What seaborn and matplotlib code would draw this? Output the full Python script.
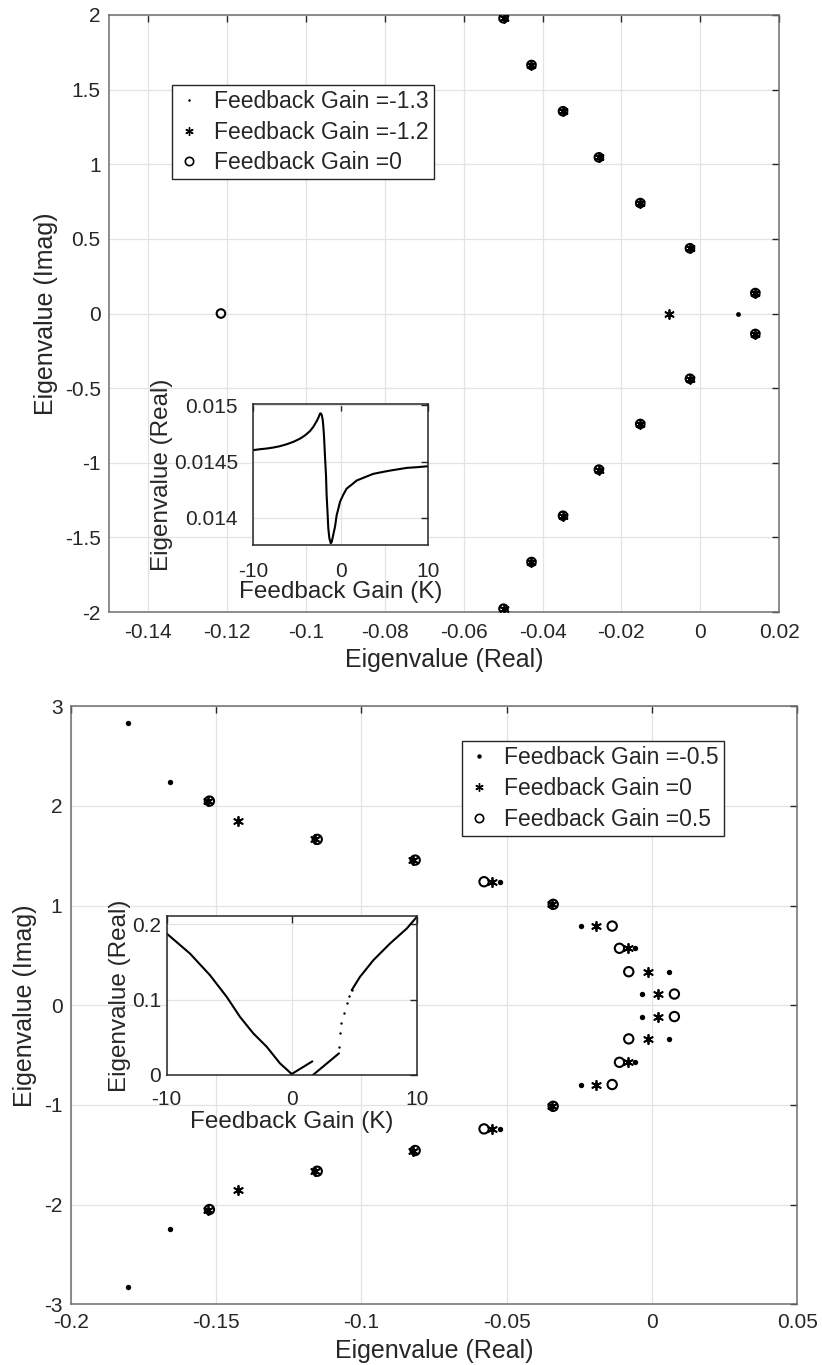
import numpy as np
import pandas as pd
import matplotlib
matplotlib.use("Agg")
import matplotlib.pyplot as plt
import seaborn as sns
from matplotlib.lines import Line2D

# ---------------- data: top panel ----------------
top_labels = ["Feedback Gain =-1.3", "Feedback Gain =-1.2", "Feedback Gain =0"]
# complex-conjugate eigenvalues (upper half) shared by the three gains
top_cplx_real = [-0.0499, -0.0428, -0.0348, -0.0257, -0.0152, -0.0026, 0.0140]
top_cplx_imag = [1.978, 1.665, 1.355, 1.046, 0.740, 0.437, 0.137]
# real eigenvalue of each gain
top_real_eig = [0.0095, -0.0079, -0.1216]

# inset of top panel: eigenvalue (real) vs feedback gain
ins1_K = [-10, -9.23, -8.47, -7.71, -6.95, -6.19, -5.43, -4.66, -4.09, -3.52, -3.14,
          -2.76, -2.57, -2.38, -2.30, -2.19, -2.07, -2.0, -1.92, -1.81, -1.69, -1.62,
          -1.54, -1.43, -1.31, -1.15, -1.04, -0.86, -0.66, -0.47, -0.29, -0.09, 0.29,
          0.67, 1.24, 1.82, 2.77, 3.71, 4.67, 5.62, 6.57, 7.53, 8.67, 10]
ins1_val = [0.014603, 0.014611, 0.014617, 0.014626, 0.014638, 0.014655, 0.014676,
            0.014705, 0.014734, 0.014772, 0.014810, 0.014860, 0.014889, 0.014927,
            0.014930, 0.014918, 0.014875, 0.014816, 0.014728, 0.014553, 0.014377,
            0.014202, 0.014085, 0.013910, 0.013822, 0.013775, 0.013787, 0.013851,
            0.013924, 0.014026, 0.014079, 0.014144, 0.014208, 0.014261, 0.014296,
            0.014333, 0.014363, 0.014392, 0.014407, 0.014421, 0.014433, 0.014445,
            0.014451, 0.014460]

# ---------------- data: bottom panel ----------------
bot_labels = ["Feedback Gain =-0.5", "Feedback Gain =0", "Feedback Gain =0.5"]
bot_m05_real = [-0.1802, -0.1658, -0.1529, -0.1158, -0.0821, -0.0523, -0.0344, -0.0244, -0.0058, 0.0057, -0.0035]
bot_m05_imag = [2.829, 2.243, 2.049, 1.665, 1.457, 1.240, 1.013, 0.795, 0.572, 0.337, 0.113]
bot_0_real = [-0.1529, -0.1426, -0.1158, -0.0821, -0.0552, -0.0344, -0.0192, -0.0083, -0.0013, 0.0021]
bot_0_imag = [2.049, 1.852, 1.665, 1.457, 1.240, 1.013, 0.795, 0.572, 0.337, 0.113]
bot_p05_real = [-0.1523, -0.1152, -0.0815, -0.0578, -0.0340, -0.0137, -0.0112, -0.0080, 0.0077]
bot_p05_imag = [2.049, 1.665, 1.457, 1.240, 1.013, 0.795, 0.572, 0.337, 0.113]

# inset of bottom panel: branches of eigenvalue (real) vs gain
ins2_b1_K = [-10, -8.14, -6.54, -5.2, -4.14, -3.07, -2.0, -0.94, 0]
ins2_b1_val = [0.1877, 0.1612, 0.1325, 0.1037, 0.0772, 0.0552, 0.0375, 0.0155, 0.0013]
ins2_b2_K = [0, 1.65]
ins2_b2_val = [0.0013, 0.0181]
ins2_b3_K = [1.7, 3.78]
ins2_b3_val = [0.0, 0.0287]
ins2_b4dots_K = [3.8, 3.84, 3.97, 4.18, 4.4, 4.6, 4.8]
ins2_b4dots_val = [0.0375, 0.0552, 0.0685, 0.0817, 0.095, 0.105, 0.1126]
ins2_b4_K = [4.8, 5.46, 6.53, 7.86, 9.2, 10]
ins2_b4_val = [0.1126, 0.1302, 0.1523, 0.1744, 0.1943, 0.2097]

# ---------------- style ----------------
sns.set_style("white")
plt.rcParams["font.family"] = ["Liberation Sans", "DejaVu Sans"]
plt.rcParams["axes.unicode_minus"] = False

W, H = 822, 1365
fig = plt.figure(figsize=(W / 100, H / 100), dpi=100)

def fbox(l, t, r, b):
    return [l / W, 1 - b / H, (r - l) / W, (b - t) / H]

TXT = "#262626"
GRID = "#e3e3e3"

def style_axes(ax, spine_color="#6e6e6e", fs=15, xpad=6, ypad=6):
    for s in ax.spines.values():
        s.set_visible(True)
        s.set_color(spine_color)
        s.set_linewidth(1.1)
    ax.tick_params(direction="in", length=5, width=1, top=True, right=True,
                   labelsize=fs, colors=TXT)
    ax.tick_params(axis="x", pad=xpad)
    ax.tick_params(axis="y", pad=ypad)
    ax.grid(True, color=GRID, linewidth=0.9)
    ax.set_axisbelow(True)

STAR = (6, 2, 0)

def scatter_set(ax, xs, ys, kind, dot_s=9, star_s=45, circ_s=40):
    df = pd.DataFrame({"x": xs, "y": ys})
    if kind == "dot":
        sns.scatterplot(data=df, x="x", y="y", ax=ax, marker="o", s=dot_s,
                        color="black", edgecolor="black", linewidth=0, legend=False, zorder=4)
    elif kind == "star":
        sns.scatterplot(data=df, x="x", y="y", ax=ax, marker=STAR, s=star_s,
                        color="black", edgecolor="black", linewidth=1.3, legend=False, zorder=4)
    else:
        sns.scatterplot(data=df, x="x", y="y", ax=ax, marker="o", s=circ_s,
                        facecolor="none", edgecolor="black", linewidth=1.5, legend=False, zorder=4)

# ================= TOP PANEL =================
ax1 = fig.add_axes(fbox(109, 15, 779, 612))
style_axes(ax1, xpad=8)
kinds = ["dot", "star", "circle"]
for k, real_eig in zip(kinds, top_real_eig):
    xs = top_cplx_real + top_cplx_real + [real_eig]
    ys = top_cplx_imag + [-v for v in top_cplx_imag] + [0.0]
    scatter_set(ax1, xs, ys, k, dot_s=12, star_s=42, circ_s=38)
ax1.set_xlim(-0.15, 0.02)
ax1.set_ylim(-2, 2)
ax1.set_xticks(np.arange(-0.14, 0.021, 0.02))
ax1.set_xticklabels(["-0.14", "-0.12", "-0.1", "-0.08", "-0.06", "-0.04", "-0.02", "0", "0.02"])
ax1.set_yticks(np.arange(-2, 2.01, 0.5))
ax1.set_yticklabels(["-2", "-1.5", "-1", "-0.5", "0", "0.5", "1", "1.5", "2"])
ax1.set_xlabel("Eigenvalue (Real)", fontsize=18, color=TXT, labelpad=4)
ax1.set_ylabel("Eigenvalue (Imag)", fontsize=18, color=TXT, labelpad=5)

def legend_handles(dot_ms):
    return [
        Line2D([], [], linestyle="none", marker="o", markersize=dot_ms, color="black", markeredgewidth=0),
        Line2D([], [], linestyle="none", marker=STAR, markersize=6, color="black", markeredgewidth=1),
        Line2D([], [], linestyle="none", marker="o", markersize=6, markerfacecolor="none",
               markeredgecolor="black", markeredgewidth=1.2),
    ]

leg_kw = dict(loc="upper left", borderaxespad=0, fontsize=16.5, frameon=True,
              fancybox=False, framealpha=1, edgecolor="#262626", handlelength=1.0,
              handletextpad=0.6, labelspacing=0.34, borderpad=0.22)
leg1 = fig.legend(legend_handles(1.8), top_labels,
                  bbox_to_anchor=(172.3 / W, 1 - 84.7 / H), **leg_kw)
leg1.get_frame().set_linewidth(1.0)

# inset top
ax1i = fig.add_axes(fbox(253.3, 404.3, 428.3, 545))
style_axes(ax1i, spine_color="#262626", xpad=12, ypad=11)
sns.lineplot(x=ins1_K, y=ins1_val, ax=ax1i, color="black", linewidth=1.5, sort=False, estimator=None)
ax1i.set_xlim(-10, 10)
ax1i.set_ylim(0.01376, 0.01501)
ax1i.set_xticks([-10, 0, 10])
ax1i.set_yticks([0.014, 0.0145, 0.015])
ax1i.set_yticklabels(["0.014", "0.0145", "0.015"])
ax1i.set_xlabel("Feedback Gain (K)", fontsize=17.5, color=TXT, labelpad=0)
ax1i.set_ylabel("Eigenvalue (Real)", fontsize=17.5, color=TXT, labelpad=1)

# ================= BOTTOM PANEL =================
ax2 = fig.add_axes(fbox(70.8, 706.3, 797.3, 1304.3))
style_axes(ax2)
for k, xr, yi in zip(kinds, [bot_m05_real, bot_0_real, bot_p05_real],
                     [bot_m05_imag, bot_0_imag, bot_p05_imag]):
    xs = xr + xr
    ys = yi + [-v for v in yi]
    scatter_set(ax2, xs, ys, k, dot_s=15, star_s=45, circ_s=45)
ax2.set_xlim(-0.2, 0.05)
ax2.set_ylim(-3, 3)
ax2.set_xticks([-0.2, -0.15, -0.1, -0.05, 0, 0.05])
ax2.set_xticklabels(["-0.2", "-0.15", "-0.1", "-0.05", "0", "0.05"])
ax2.set_yticks([-3, -2, -1, 0, 1, 2, 3])
ax2.set_yticklabels(["-3", "-2", "-1", "0", "1", "2", "3"])
ax2.set_xlabel("Eigenvalue (Real)", fontsize=18, color=TXT, labelpad=5)
ax2.set_ylabel("Eigenvalue (Imag)", fontsize=18, color=TXT, labelpad=5)

leg2 = fig.legend(legend_handles(3.2), bot_labels,
                  bbox_to_anchor=(462.3 / W, 1 - 741.3 / H), **leg_kw)
leg2.get_frame().set_linewidth(1.0)

# inset bottom
ax2i = fig.add_axes(fbox(166.7, 916, 416.7, 1075))
style_axes(ax2i, spine_color="#262626", xpad=11, ypad=4)
for kk, vv in [(ins2_b1_K, ins2_b1_val), (ins2_b2_K, ins2_b2_val),
               (ins2_b3_K, ins2_b3_val), (ins2_b4_K, ins2_b4_val)]:
    sns.lineplot(x=kk, y=vv, ax=ax2i, color="black", linewidth=1.5, sort=False, estimator=None)
sns.scatterplot(x=ins2_b4dots_K, y=ins2_b4dots_val, ax=ax2i, color="black", s=3,
                linewidth=0, legend=False)
ax2i.set_xlim(-10, 10)
ax2i.set_ylim(0, 0.211)
ax2i.set_xticks([-10, 0, 10])
ax2i.set_yticks([0, 0.1, 0.2])
ax2i.set_yticklabels(["0", "0.1", "0.2"])
ax2i.set_xlabel("Feedback Gain (K)", fontsize=17.5, color=TXT, labelpad=1)
ax2i.set_ylabel("Eigenvalue (Real)", fontsize=17.5, color=TXT, labelpad=1)

fig.savefig("out.png", dpi=100)
